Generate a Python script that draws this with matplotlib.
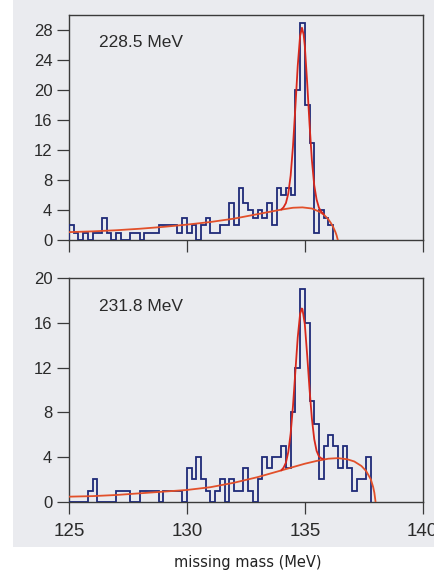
import numpy as np
import matplotlib
matplotlib.use("Agg")
import matplotlib.pyplot as plt
from matplotlib.patches import Rectangle

# ---------------- data ----------------
bin_start = 125.0
bin_width = 0.2

counts_228 = [2, 1, 0, 1, 0, 1, 1, 3, 1, 0, 1, 0, 0, 1, 1, 0, 1, 1, 1, 2,
              2, 2, 2, 1, 3, 1, 2, 0, 2, 3, 1, 1, 2, 2, 5, 2, 7, 5, 4, 3,
              4, 3, 5, 2, 7, 6, 7, 6, 20, 29, 18, 13, 1, 4, 3, 2]

counts_231 = [0, 0, 0, 0, 1, 2, 0, 0, 0, 0, 1, 1, 1, 0, 0, 1, 1, 1, 1, 0,
              1, 1, 1, 1, 0, 3, 2, 4, 2, 1, 0, 1, 2, 0, 2, 1, 1, 3, 1, 0,
              2, 4, 3, 4, 4, 5, 3, 8, 12, 19, 16, 9, 7, 2, 5, 6, 5, 3, 5, 3,
              1, 2, 2, 4]

bg_228_x = [125.0, 126.0, 127.0, 128.0, 129.0, 130.0, 131.0, 132.0, 132.5, 133.0,
            133.5, 134.0, 134.5, 134.9, 135.3, 135.6, 135.8, 136.0, 136.1, 136.2,
            136.3, 136.35, 136.4]
bg_228_y = [1.05, 1.15, 1.3, 1.5, 1.75, 2.05, 2.4, 2.85, 3.15, 3.45,
            3.75, 4.05, 4.3, 4.35, 4.2, 3.8, 3.4, 2.75, 2.3, 1.75,
            1.05, 0.6, 0.0]

fit_228_x = [134.0, 134.1, 134.2, 134.3, 134.4, 134.5, 134.6, 134.7, 134.8, 134.88,
             134.95, 135.0, 135.1, 135.2, 135.3, 135.4, 135.5, 135.6, 135.7, 135.8]
fit_228_y = [4.05, 4.37, 4.93, 6.2, 8.6, 12.55, 17.7, 23.2, 27.2, 28.3,
             27.4, 25.9, 21.0, 15.5, 10.65, 7.3, 5.4, 4.3, 3.77, 3.45]

bg_231_x = [125.0, 126.0, 127.0, 128.0, 129.0, 130.0, 131.0, 132.0, 133.0, 133.5,
            134.0, 134.5, 135.0, 135.5, 136.0, 136.4, 136.8, 137.1, 137.4, 137.6,
            137.8, 137.9, 137.95, 138.0]
bg_231_y = [0.45, 0.5, 0.6, 0.75, 0.9, 1.05, 1.3, 1.7, 2.2, 2.5,
            2.8, 3.1, 3.4, 3.65, 3.85, 3.9, 3.8, 3.6, 3.2, 2.75,
            2.0, 1.3, 0.8, 0.0]

fit_231_x = [134.0, 134.1, 134.2, 134.3, 134.4, 134.5, 134.6, 134.7, 134.8, 134.87,
             134.9, 135.0, 135.1, 135.2, 135.3, 135.4, 135.5, 135.6, 135.7, 135.8]
fit_231_y = [2.8, 3.05, 3.5, 4.45, 6.1, 8.6, 11.65, 14.7, 16.8, 17.3,
             17.25, 15.9, 13.15, 10.1, 7.45, 5.6, 4.55, 4.05, 3.88, 3.82]

labels = ["228.5 MeV", "231.8 MeV"]
x_ticks = [125, 130, 135, 140]
y_ticks_228 = [0, 4, 8, 12, 16, 20, 24, 28]
y_ticks_231 = [0, 4, 8, 12, 16, 20]
x_label = "missing mass (MeV)"

# ---------------- style ----------------
plt.rcParams["font.family"] = ["Liberation Sans", "DejaVu Sans"]
paper = "#eaebef"
hist_col = "#1f2a78"
fit_col = "#d8281c"
bg_col = "#e2502a"
axis_col = "#3a3a3a"
text_col = "#2a2a2a"

fig = plt.figure(figsize=(4.34, 5.71), dpi=100)
fig.patches.append(Rectangle((13 / 434, 24 / 571), 1 - 13 / 434, 1 - 24 / 571,
                             transform=fig.transFigure, facecolor=paper,
                             edgecolor="none", zorder=-10))

ax1 = fig.add_axes([69 / 434, 1 - 240 / 571, 353.7 / 434, 225 / 571])
ax2 = fig.add_axes([69 / 434, 1 - 501.7 / 571, 353.7 / 434, 223.4 / 571])


def draw(ax, counts, bgx, bgy, fx, fy, label, yticks, ymax, lab_y, show_x):
    edges = bin_start + bin_width * np.arange(len(counts) + 1)
    ax.set_facecolor("none")
    ax.stairs(counts, edges, baseline=0, color=hist_col, lw=1.3, zorder=3)
    ax.plot(bgx, bgy, color=bg_col, lw=1.3, zorder=4, solid_capstyle="round")
    ax.plot(fx, fy, color=fit_col, lw=1.3, zorder=5, solid_capstyle="round")
    ax.set_xlim(125, 140)
    ax.set_ylim(0, ymax)
    ax.set_xticks(x_ticks)
    ax.set_yticks(yticks)
    for s in ax.spines.values():
        s.set_color(axis_col)
        s.set_linewidth(1.0)
    ax.tick_params(axis="y", direction="out", length=8.5, width=0.9,
                   color=axis_col, labelcolor=text_col, labelsize=12, pad=3.5)
    ax.tick_params(axis="x", direction="out", length=8.5, width=0.9,
                   color=axis_col, labelcolor=text_col, labelsize=13.5, pad=7,
                   labelbottom=show_x)
    ax.text(126.27, lab_y, label, fontsize=12.5, color=text_col,
            ha="left", va="center")


draw(ax1, counts_228, bg_228_x, bg_228_y, fit_228_x, fit_228_y, labels[0],
     y_ticks_228, 30, 26.3, False)
draw(ax2, counts_231, bg_231_x, bg_231_y, fit_231_x, fit_231_y, labels[1],
     y_ticks_231, 20, 17.5, True)

fig.text(248 / 434, 1 - 563 / 571, x_label, fontsize=10.5, color="#222222",
         family="DejaVu Sans", ha="center", va="center")

fig.savefig("out.png", dpi=100)
